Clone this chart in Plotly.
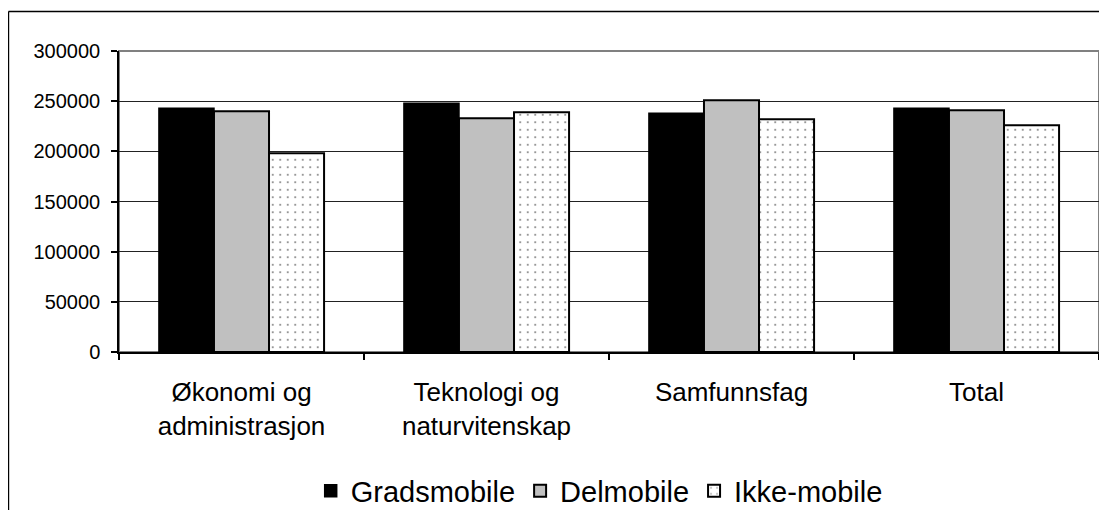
import plotly.graph_objects as go

categories = ["Økonomi og<br>administrasjon", "Teknologi og<br>naturvitenskap", "Samfunnsfag", "Total"]
gradsmobile = [243000, 248000, 238000, 243000]
delmobile = [240000, 233000, 251000, 241000]
ikke_mobile = [198000, 239000, 232000, 226000]
y_ticks = [0, 50000, 100000, 150000, 200000, 250000, 300000]

FONT = "Arial, Liberation Sans, sans-serif"

fig = go.Figure()
fig.add_trace(go.Bar(name="Gradsmobile", x=categories, y=gradsmobile,
                     marker=dict(color="#000000", line=dict(color="#000000", width=1.5))))
fig.add_trace(go.Bar(name="Delmobile", x=categories, y=delmobile,
                     marker=dict(color="#c0c0c0", line=dict(color="#000000", width=2))))
fig.add_trace(go.Bar(name="Ikke-mobile", x=categories, y=ikke_mobile,
                     marker=dict(color="#ffffff", line=dict(color="#000000", width=2),
                                 pattern=dict(shape=".", fgcolor="#000000", bgcolor="#ffffff",
                                              size=7.5, solidity=0.06, fillmode="overlay"))))

fig.update_layout(
    width=1099, height=502,
    margin=dict(l=111, r=8, t=43, b=158),
    paper_bgcolor="white", plot_bgcolor="white",
    barmode="group", bargap=0.326, bargroupgap=0,
    font=dict(family=FONT, color="#000000"),
    showlegend=True,
    legend=dict(orientation="h", xref="paper", x=0.49, xanchor="center",
                yref="container", y=0.038, yanchor="middle",
                font=dict(size=29, family=FONT),
                bgcolor="rgba(0,0,0,0)", traceorder="normal"),
    shapes=[
        dict(type="rect", xref="paper", yref="paper", x0=0, x1=1, y0=0, y1=1,
             line=dict(color="#808080", width=2), layer="below"),
        dict(type="line", xref="paper", yref="paper", x0=-0.1128, x1=-0.1128, y0=1.1312, y1=-0.7,
             line=dict(color="#000000", width=1.5)),
        dict(type="line", xref="paper", yref="paper", x0=-0.1128, x1=1.2, y0=1.1312, y1=1.1312,
             line=dict(color="#000000", width=1.5)),
    ],
)

fig.update_xaxes(
    showgrid=False, showline=True, linecolor="#000000", linewidth=1.5,
    ticks="outside", ticklen=6, tickcolor="#000000", tickwidth=1.5,
    tickson="boundaries", tickfont=dict(size=26, family=FONT),
    ticklabelstandoff=16,
)
fig.update_yaxes(
    range=[0, 300000], tickvals=y_ticks, ticktext=[str(v) for v in y_ticks],
    showgrid=True, gridcolor="#222222", gridwidth=1,
    showline=True, linecolor="#000000", linewidth=1.5,
    ticks="outside", ticklen=6, tickcolor="#000000", tickwidth=1.5,
    tickfont=dict(size=20, family=FONT), ticklabelstandoff=7,
    zeroline=False,
)

fig.write_html("out.html")
